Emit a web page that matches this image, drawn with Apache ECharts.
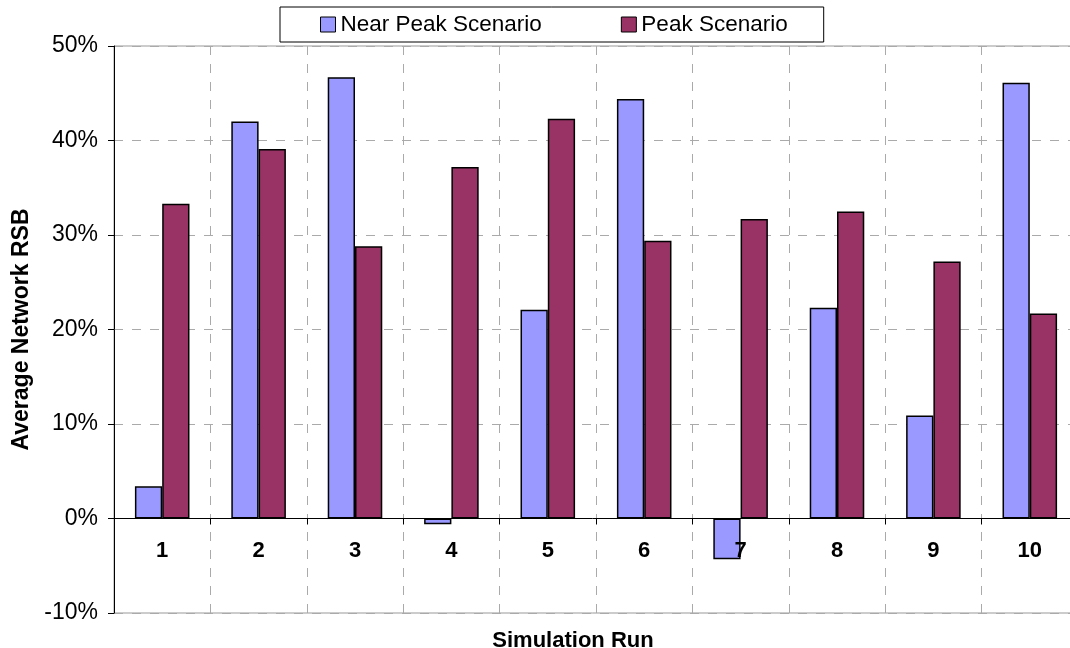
<!DOCTYPE html>
<html>
<head>
<meta charset="utf-8">
<script src="https://cdn.jsdelivr.net/npm/echarts@6/dist/echarts.min.js"></script>
<style>
  html, body { margin: 0; padding: 0; background: #fff; overflow: hidden; }
  #chart { width: 1070px; height: 648px; }
</style>
</head>
<body>
<div id="chart"></div>
<script>
// Simulation runs on the category axis
const runs = ['1', '2', '3', '4', '5', '6', '7', '8', '9', '10'];
// Average network RSB per run, in percent
const nearPeak = [3.4, 42.0, 46.7, -0.6, 22.1, 44.4, -4.3, 22.3, 10.9, 46.1];
const peak = [33.3, 39.1, 28.8, 37.2, 42.3, 29.4, 31.7, 32.5, 27.2, 21.7];
// Value axis range and step, in percent
const yMin = -10, yMax = 50, yStep = 10;

const FONT = '"Liberation Sans", Arial, sans-serif';
const chart = echarts.init(document.getElementById('chart'), null, { renderer: 'canvas' });

chart.setOption({
  animation: false,
  backgroundColor: '#ffffff',
  textStyle: { fontFamily: FONT },
  title: {
    text: 'Simulation Run',
    left: 573,
    top: 630,
    padding: 0,
    textAlign: 'center',
    textStyle: { fontFamily: FONT, fontSize: 22, fontWeight: 'bold', color: '#000' }
  },
  legend: {
    data: ['Near Peak Scenario', 'Peak Scenario'],
    left: 280,
    top: 7,
    padding: [6, 36, 6, 40],
    itemGap: 79,
    itemWidth: 15,
    itemHeight: 15,
    icon: 'rect',
    borderColor: '#000',
    borderWidth: 1,
    textStyle: { fontFamily: FONT, fontSize: 22.5, color: '#000' },
    itemStyle: { borderColor: '#000', borderWidth: 1 }
  },
  grid: {
    left: 114,
    top: 46,
    width: 964,
    height: 567,
    containLabel: false,
    outerBoundsMode: 'none',
    show: true,
    borderColor: '#999',
    borderWidth: 1,
    backgroundColor: 'transparent'
  },
  xAxis: {
    type: 'category',
    data: runs,
    position: 'bottom',
    // drawn above the bars so run labels stay visible over negative bars;
    // the boundary grid lines sit in the gaps between bar pairs
    z: 10,
    axisLine: { onZero: true, lineStyle: { color: '#000', width: 1 } },
    axisTick: { show: true, length: 6, lineStyle: { color: '#000' } },
    axisLabel: {
      show: true,
      margin: -73,
      fontFamily: FONT,
      fontSize: 22,
      fontWeight: 'bold',
      color: '#000'
    },
    splitLine: {
      show: true,
      // skip the boundary that coincides with the value axis line
      interval: (i) => i !== 0,
      lineStyle: { color: '#aaa', type: [9, 9], width: 1 }
    }
  },
  yAxis: {
    type: 'value',
    min: yMin,
    max: yMax,
    interval: yStep,
    name: 'Average Network RSB',
    nameLocation: 'middle',
    nameRotate: 90,
    nameGap: 80,
    nameTextStyle: { fontFamily: FONT, fontSize: 23, fontWeight: 'bold', color: '#000' },
    axisLine: { show: true, lineStyle: { color: '#000', width: 1 } },
    axisTick: { show: true, length: 6, lineStyle: { color: '#000' } },
    axisLabel: {
      margin: 16,
      fontFamily: FONT,
      fontSize: 23,
      color: '#000',
      formatter: v => v + '%'
    },
    splitLine: { show: true, lineStyle: { color: '#aaa', type: [9, 9], width: 1 } }
  },
  series: [
    {
      name: 'Near Peak Scenario',
      type: 'bar',
      data: nearPeak,
      barWidth: '28.3%',
      barGap: '0%',
      itemStyle: { color: '#9999FF', borderColor: '#000', borderWidth: 1.5 }
    },
    {
      name: 'Peak Scenario',
      type: 'bar',
      data: peak,
      barWidth: '28.3%',
      barGap: '0%',
      itemStyle: { color: '#993366', borderColor: '#000', borderWidth: 1.5 }
    }
  ]
});
</script>
</body>
</html>
